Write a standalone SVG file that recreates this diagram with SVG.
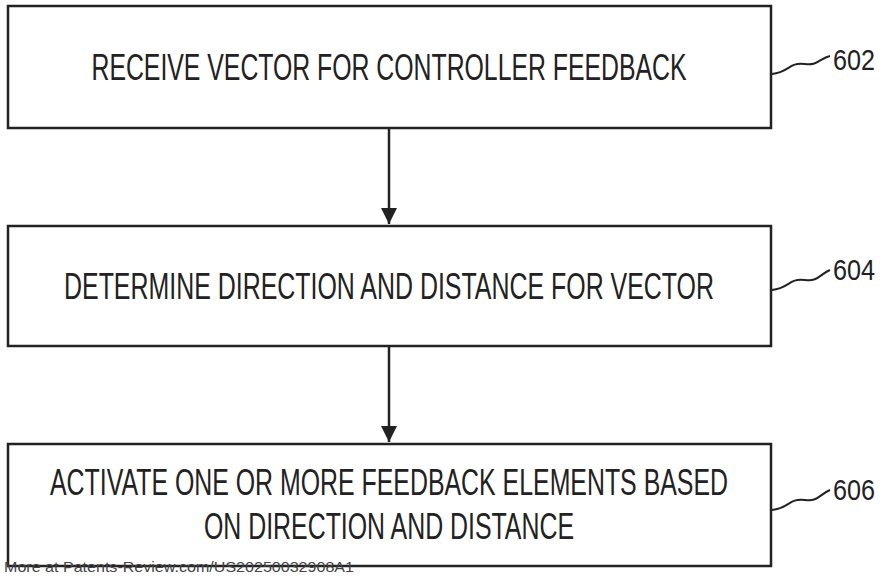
<svg xmlns="http://www.w3.org/2000/svg" width="880" height="581" viewBox="0 0 880 581">
<style>
.box{fill:#fff;stroke:#222;stroke-width:2.5}
.t{font-family:"Liberation Sans",Arial,sans-serif;font-size:36px;fill:#222;text-anchor:middle}
.lbl{font-family:"Liberation Sans",Arial,sans-serif;font-size:30px;fill:#222}
.ld{fill:none;stroke:#222;stroke-width:2}
.c{stroke:#222;stroke-width:2.5;fill:none}
</style>
<defs>
<marker id="ah" viewBox="0 0 10 10" refX="10" refY="5" markerWidth="16" markerHeight="16" orient="auto" markerUnits="userSpaceOnUse"><path d="M0,0 L10,5 L0,10 Z" fill="#222"/></marker></defs>
<g id="connectors">
<line class="c" x1="389" y1="129" x2="389" y2="224" marker-end="url(#ah)"/>
<line class="c" x1="389" y1="347" x2="389" y2="442" marker-end="url(#ah)"/>
</g>
<g id="n602"><rect class="box" x="8" y="6" width="763" height="122"/>
<text class="t" x="389" y="80" textLength="595" lengthAdjust="spacingAndGlyphs">RECEIVE VECTOR FOR CONTROLLER FEEDBACK</text>
<path class="ld" d="M772,74 C790,72 788,62 805,64 C818,66 820,58 830,56"/><text class="lbl" x="833" y="70" textLength="42" lengthAdjust="spacingAndGlyphs">602</text></g>
<g id="n604"><rect class="box" x="8" y="226" width="763" height="120"/>
<text class="t" x="389" y="299" textLength="650" lengthAdjust="spacingAndGlyphs">DETERMINE DIRECTION AND DISTANCE FOR VECTOR</text>
<path class="ld" d="M772,290 C790,288 788,278 805,280 C818,282 820,274 830,270"/><text class="lbl" x="833" y="280" textLength="42" lengthAdjust="spacingAndGlyphs">604</text></g>
<g id="n606"><rect class="box" x="8" y="444" width="763" height="122"/>
<text class="t" x="389" y="495" textLength="678" lengthAdjust="spacingAndGlyphs">ACTIVATE ONE OR MORE FEEDBACK ELEMENTS BASED</text>
<text class="t" x="389" y="539" textLength="370" lengthAdjust="spacingAndGlyphs">ON DIRECTION AND DISTANCE</text>
<path class="ld" d="M772,510 C790,508 788,498 805,500 C818,502 820,494 830,490"/><text class="lbl" x="833" y="500" textLength="42" lengthAdjust="spacingAndGlyphs">606</text></g>
<text x="4" y="572" font-family="Liberation Sans,Arial,sans-serif" font-size="15" fill="#444" textLength="350" lengthAdjust="spacingAndGlyphs">More at Patents-Review.com/US20250032908A1</text>
</svg>
